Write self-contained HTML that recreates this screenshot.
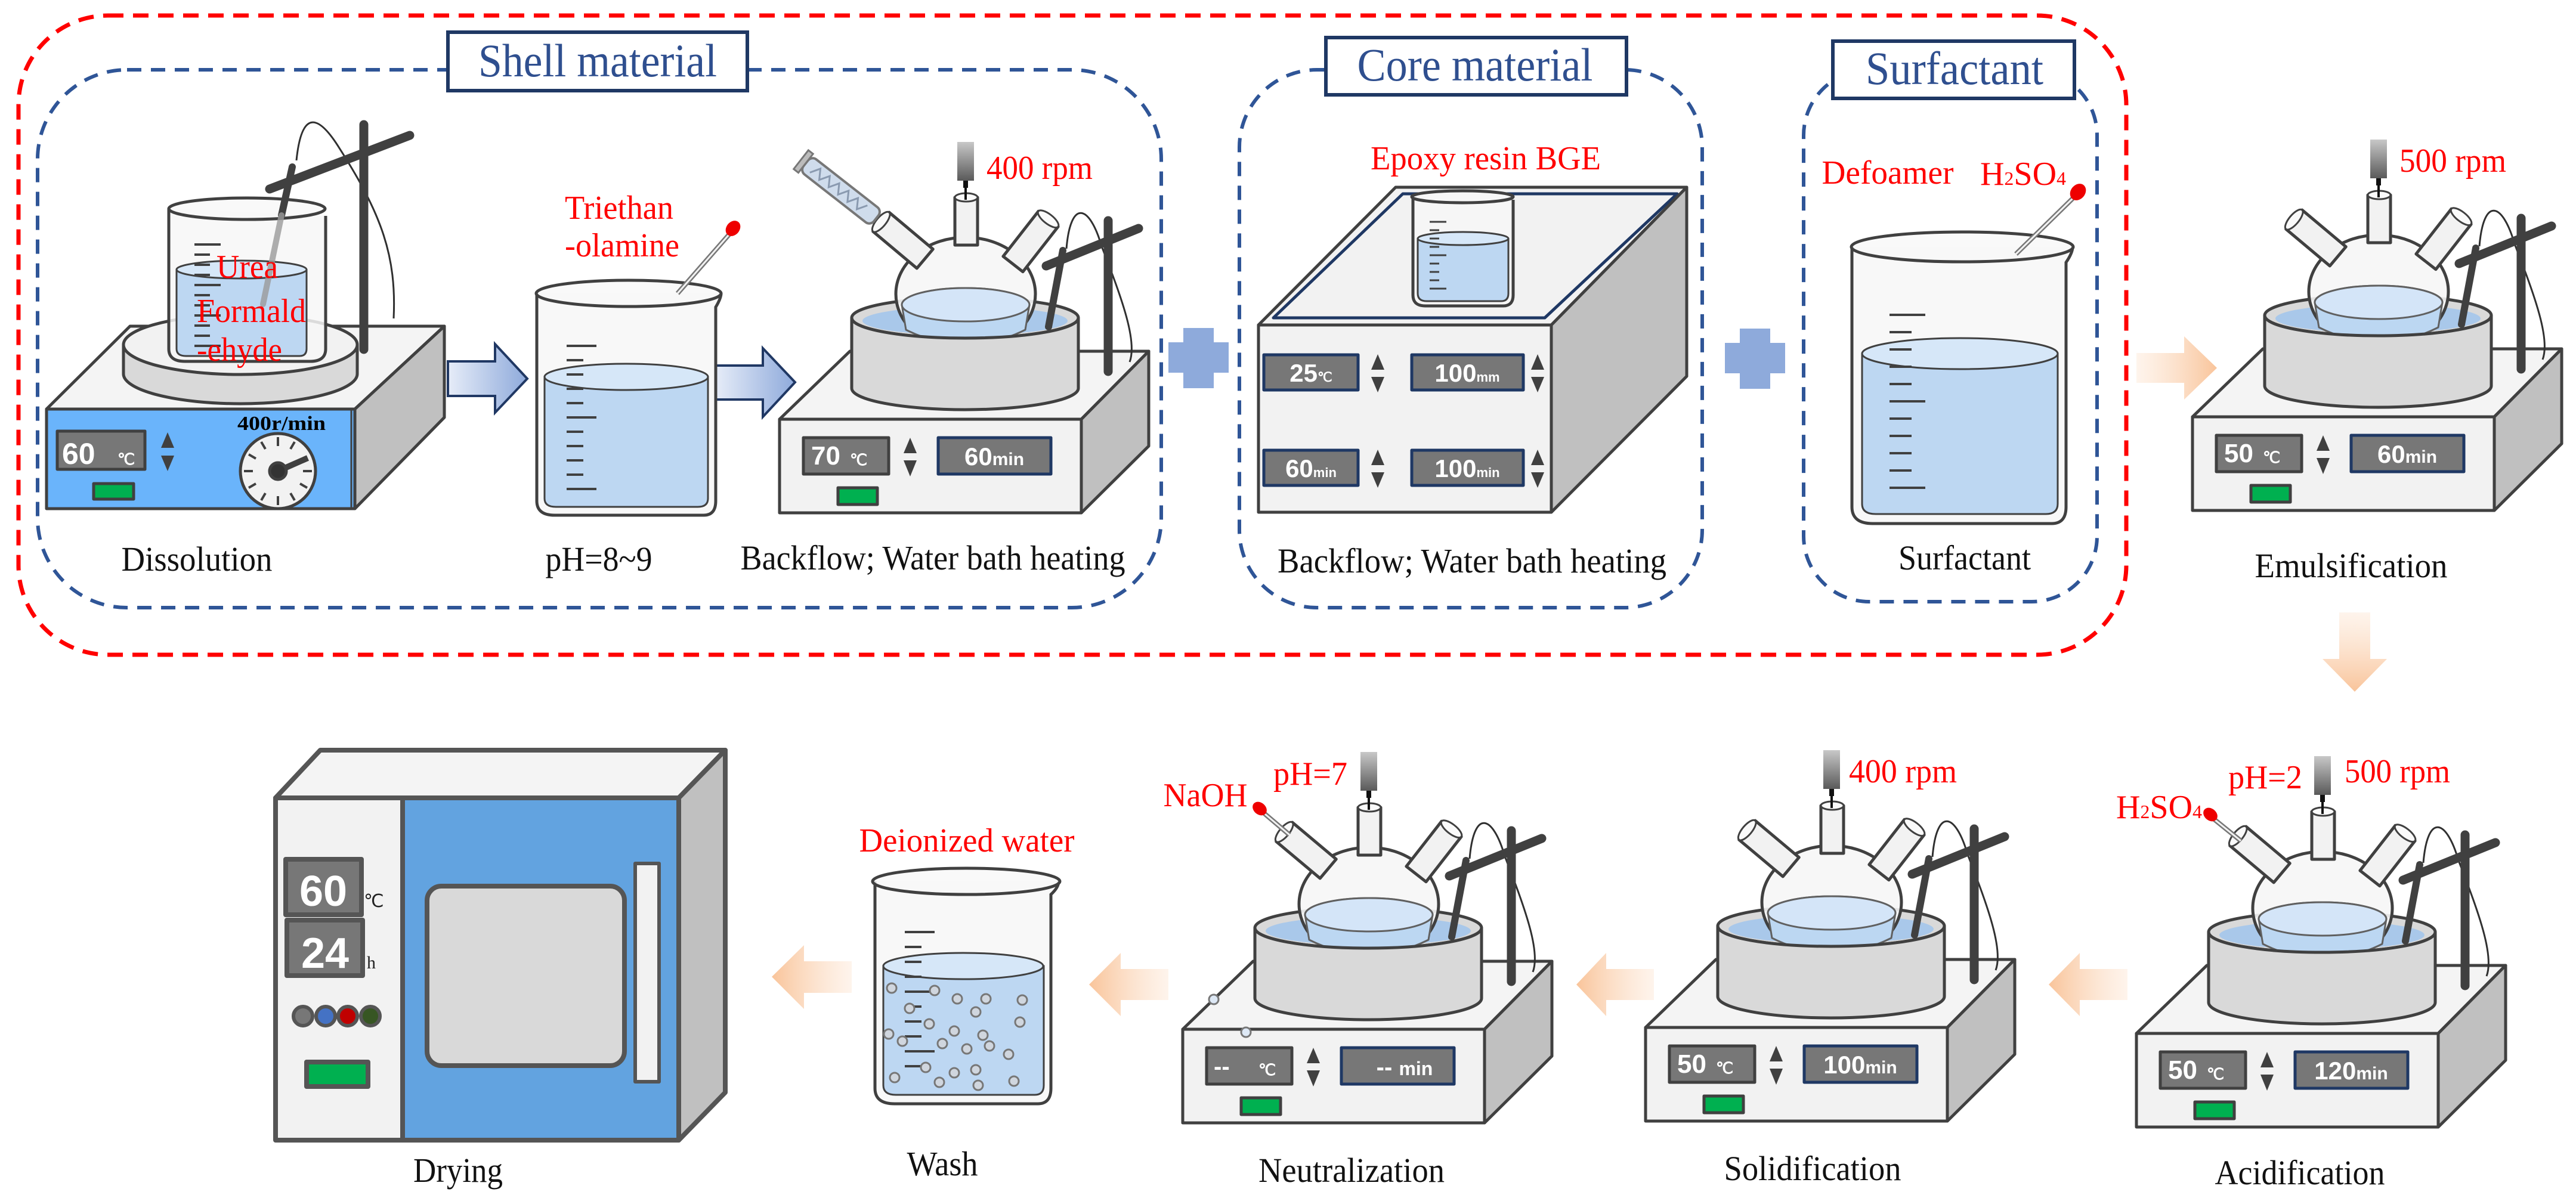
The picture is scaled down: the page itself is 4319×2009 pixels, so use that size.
<!DOCTYPE html>
<html><head><meta charset="utf-8"><style>
html,body{margin:0;padding:0;background:#fff;}
svg{display:block;}
text{font-family:"Liberation Serif",serif;}
.lb{font-size:58px;fill:#111;text-anchor:middle;font-family:"Liberation Serif",serif;}
.rd{font-size:56px;fill:#ff0000;font-family:"Liberation Serif",serif;}
.dt{font-family:"Liberation Sans",sans-serif;font-weight:bold;fill:#fff;}
.ttl{font-size:78px;fill:#2f4f8f;text-anchor:middle;font-family:"Liberation Serif",serif;}
</style></head><body>
<svg width="4319" height="2009" viewBox="0 0 4319 2009" xmlns="http://www.w3.org/2000/svg">
<defs>
<linearGradient id="stir" x1="0" y1="0" x2="0" y2="1"><stop offset="0" stop-color="#c8c8c8"/><stop offset="1" stop-color="#5a5a5a"/></linearGradient>
<linearGradient id="barr" x1="0" y1="0" x2="1" y2="0"><stop offset="0" stop-color="#e6ecf8"/><stop offset="1" stop-color="#8eaadb"/></linearGradient>
<linearGradient id="oR" x1="0" y1="0" x2="1" y2="0"><stop offset="0" stop-color="#fde9d9" stop-opacity="0.5"/><stop offset="1" stop-color="#f9c49a"/></linearGradient>
<linearGradient id="oL" x1="1" y1="0" x2="0" y2="0"><stop offset="0" stop-color="#fde9d9" stop-opacity="0.5"/><stop offset="1" stop-color="#f9c49a"/></linearGradient>
<linearGradient id="oD" x1="0" y1="0" x2="0" y2="1"><stop offset="0" stop-color="#fde9d9" stop-opacity="0.5"/><stop offset="1" stop-color="#f9c49a"/></linearGradient>
<g id="unit" stroke="#404040" stroke-width="5" stroke-linejoin="round">
  <polygon points="0,0 118,-114 619,-114 506,0" fill="#f4f4f4"/>
  <polygon points="506,0 619,-114 619,45 506,157" fill="#c0c0c0"/>
  <rect x="0" y="0" width="506" height="157" fill="#f2f2f2"/>
  <path d="M481,-286 C488,-370 520,-360 540,-290 C575,-200 600,-130 587,-96" fill="none" stroke="#303030" stroke-width="3"/>
  <ellipse cx="311" cy="-170" rx="190" ry="34" fill="#d9d9d9"/>
  <ellipse cx="311" cy="-165" rx="172" ry="24" fill="#a9c8ea" stroke="none"/>
  <ellipse cx="312" cy="-210" rx="117" ry="95" fill="#f6f6f6" fill-opacity="0.9"/>
  <path d="M205,-192 A107,28 0 0 1 419,-192 L412,-150 Q312,-100 212,-150 Z" fill="#bcd7f2" stroke="#606060" stroke-width="3"/>
  <ellipse cx="312" cy="-192" rx="107" ry="28" fill="#d4e5f8" stroke="#606060" stroke-width="3"/>
  <rect x="294" y="-372" width="38" height="80" fill="#f2f2f2"/>
  <ellipse cx="313" cy="-372" rx="19" ry="7" fill="#fafafa" stroke-width="3"/>
  <g transform="translate(207,-300) rotate(-50)"><rect x="-21" y="-48" width="42" height="96" fill="#f2f2f2"/><ellipse cx="0" cy="-48" rx="21" ry="8" fill="#fafafa" stroke-width="3"/></g>
  <g transform="translate(421,-298) rotate(38)"><rect x="-21" y="-48" width="42" height="96" fill="#f2f2f2"/><ellipse cx="0" cy="-48" rx="21" ry="8" fill="#fafafa" stroke-width="3"/></g>
  <path d="M121,-170 A190,34 0 0 0 501,-170 L501,-52 A190,36 0 0 1 121,-52 Z" fill="#d9d9d9"/>
  <rect x="298" y="-465" width="28" height="65" fill="url(#stir)" stroke="none"/>
  <line x1="312" y1="-400" x2="312" y2="-368" stroke="#111" stroke-width="4"/>
  <rect x="308" y="-400" width="8" height="12" fill="#111" stroke="none"/>
  <line x1="551" y1="-333" x2="551" y2="-80" stroke="#404040" stroke-width="15" stroke-linecap="round"/>
  <line x1="447" y1="-257" x2="602" y2="-320" stroke="#404040" stroke-width="15" stroke-linecap="round"/>
  <line x1="475" y1="-283" x2="451" y2="-155" stroke="#404040" stroke-width="12" stroke-linecap="round"/>
  <rect x="40" y="31" width="143" height="61" fill="#777"/>
  <polygon points="208,57 230,57 219,31" fill="#404040" stroke="none"/>
  <polygon points="208,69 230,69 219,96" fill="#404040" stroke="none"/>
  <rect x="266" y="31" width="189" height="61" fill="#777" stroke="#1f3864"/>
  <rect x="98" y="115" width="66" height="28" fill="#00b050"/>
</g>
</defs>

<rect x="31" y="26" width="3534" height="1072" rx="150" fill="none" stroke="#ff0000" stroke-width="7" stroke-dasharray="26 16"/>
<rect x="63" y="117" width="1884" height="902" rx="150" fill="none" stroke="#2f5597" stroke-width="6" stroke-dasharray="24 16"/>
<rect x="2078" y="117" width="776" height="902" rx="130" fill="none" stroke="#2f5597" stroke-width="6" stroke-dasharray="24 16"/>
<rect x="3024" y="117" width="492" height="892" rx="110" fill="none" stroke="#2f5597" stroke-width="6" stroke-dasharray="24 16"/>
<rect x="751" y="54" width="502" height="98" fill="#fff" stroke="#1f3864" stroke-width="6"/>
<text class="ttl" x="1002" y="128" textLength="400" lengthAdjust="spacingAndGlyphs">Shell material</text>
<rect x="2223" y="63" width="504" height="96" fill="#fff" stroke="#1f3864" stroke-width="6"/>
<text class="ttl" x="2473" y="135" textLength="395" lengthAdjust="spacingAndGlyphs">Core material</text>
<rect x="3073" y="69" width="405" height="96" fill="#fff" stroke="#1f3864" stroke-width="6"/>
<text class="ttl" x="3277" y="141" textLength="298" lengthAdjust="spacingAndGlyphs">Surfactant</text>

<!-- Dissolution -->
<g stroke="#404040" stroke-width="5" stroke-linejoin="round">
  <polygon points="78,686 218,547 745,547 595,686" fill="#f4f4f4"/>
  <polygon points="595,686 745,547 745,700 595,853" fill="#c0c0c0"/>
  <rect x="78" y="686" width="517" height="167" fill="#6ab4fb"/>
  <line x1="589" y1="686" x2="589" y2="853" stroke-width="3"/>
  <path d="M207,578 L207,627 A196,50 0 0 0 599,627 L599,578" fill="#d9d9d9"/>
  <ellipse cx="403" cy="578" rx="196" ry="50" fill="#f2f2f2"/>
  <path d="M497,269 C505,190 530,185 570,250 C640,360 665,430 660,534" fill="none" stroke="#303030" stroke-width="3"/>
  <path d="M283,350 L283,585 Q283,606 310,606 L520,606 Q546,606 546,585 L546,362" fill="#f7f7f7" fill-opacity="0.85"/>
  <path d="M296,452 L296,585 Q296,597 312,597 L502,597 Q514,597 514,585 L514,452 Z" fill="#bdd7f2" stroke-width="3"/>
  <ellipse cx="405" cy="452" rx="109" ry="15" fill="#d6e7f8" stroke-width="3"/>
  <ellipse cx="414" cy="350" rx="131" ry="18" fill="#f7f7f7" fill-opacity="0.8"/>
  <g stroke-width="4"><line x1="326" y1="410" x2="370" y2="410"/><line x1="326" y1="427" x2="352" y2="427"/><line x1="326" y1="444" x2="352" y2="444"/><line x1="326" y1="461" x2="352" y2="461"/><line x1="326" y1="478" x2="370" y2="478"/><line x1="326" y1="495" x2="352" y2="495"/><line x1="326" y1="512" x2="352" y2="512"/><line x1="326" y1="529" x2="370" y2="529"/><line x1="326" y1="546" x2="352" y2="546"/><line x1="326" y1="563" x2="352" y2="563"/><line x1="326" y1="580" x2="370" y2="580"/></g>
  <line x1="490" y1="280" x2="472" y2="361" stroke="#404040" stroke-width="12" stroke-linecap="round"/>
  <line x1="472" y1="361" x2="441" y2="510" stroke="#9a9a9a" stroke-width="10" stroke-linecap="round" stroke-opacity="0.8"/>
  <line x1="610" y1="209" x2="610" y2="586" stroke="#404040" stroke-width="15" stroke-linecap="round"/>
  <line x1="452" y1="317" x2="687" y2="227" stroke="#404040" stroke-width="15" stroke-linecap="round"/>
  <rect x="96" y="723" width="147" height="64" fill="#777"/>
  <polygon points="270,751 292,751 281,725" fill="#404040" stroke="none"/>
  <polygon points="270,764 292,764 281,790" fill="#404040" stroke="none"/>
  <rect x="157" y="811" width="67" height="26" fill="#00b050"/>
  <circle cx="466" cy="790" r="63" fill="#f2f2f2"/>
  <g stroke-width="4">
    <line x1="466" y1="733" x2="466" y2="748"/><line x1="466" y1="832" x2="466" y2="847"/><line x1="409" y1="790" x2="424" y2="790"/><line x1="508" y1="790" x2="523" y2="790"/>
    <line x1="438" y1="741" x2="445" y2="753"/><line x1="494" y1="741" x2="487" y2="753"/><line x1="438" y1="839" x2="445" y2="827"/><line x1="494" y1="839" x2="487" y2="827"/>
    <line x1="417" y1="762" x2="429" y2="769"/><line x1="417" y1="818" x2="429" y2="811"/><line x1="515" y1="818" x2="503" y2="811"/>
  </g>
  <line x1="466" y1="790" x2="516" y2="768" stroke-width="10"/>
  <circle cx="466" cy="790" r="14" fill="#333"/>
</g>
<text class="dt" x="104" y="778" font-size="50">60</text><text class="dt" x="197" y="779" font-size="26">℃</text>
<text x="472" y="721" font-family="Liberation Sans" font-weight="bold" font-size="34" fill="#000" text-anchor="middle" textLength="148" lengthAdjust="spacingAndGlyphs">400r/min</text>
<text class="rd" x="363" y="466" textLength="103" lengthAdjust="spacingAndGlyphs">Urea</text>
<text class="rd" x="330" y="540" textLength="183" lengthAdjust="spacingAndGlyphs">Formald</text>
<text class="rd" x="330" y="605" textLength="143" lengthAdjust="spacingAndGlyphs">-ehyde</text>
<text class="lb" x="330" y="957" textLength="253" lengthAdjust="spacingAndGlyphs">Dissolution</text>

<polygon points="751,606 830,606 830,577 884,635 830,692 830,664 751,664" fill="url(#barr)" stroke="#203864" stroke-width="4"/>
<polygon points="1200,613 1279,613 1279,584 1333,641 1279,699 1279,670 1200,670" fill="url(#barr)" stroke="#203864" stroke-width="4"/>

<!-- pH beaker -->
<g stroke="#404040" stroke-width="5">
  <path d="M900,492 L900,840 Q900,864 930,864 L1180,864 Q1200,864 1200,840 L1200,515 Q1209,500 1209,492" fill="#f7f7f7" fill-opacity="0.85"/>
  <path d="M913,632 L913,836 Q913,850 932,850 L1170,850 Q1187,850 1187,836 L1187,632 Z" fill="#bdd7f2" stroke-width="3"/>
  <ellipse cx="1050" cy="632" rx="137" ry="22" fill="#d6e7f8" stroke-width="3"/>
  <ellipse cx="1054" cy="492" rx="155" ry="22" fill="#f7f7f7" fill-opacity="0.8"/>
  <g stroke-width="4"><line x1="950" y1="580" x2="1000" y2="580"/><line x1="950" y1="604" x2="978" y2="604"/><line x1="950" y1="628" x2="978" y2="628"/><line x1="950" y1="652" x2="978" y2="652"/><line x1="950" y1="676" x2="978" y2="676"/><line x1="950" y1="700" x2="1000" y2="700"/><line x1="950" y1="724" x2="978" y2="724"/><line x1="950" y1="748" x2="978" y2="748"/><line x1="950" y1="772" x2="978" y2="772"/><line x1="950" y1="796" x2="978" y2="796"/><line x1="950" y1="820" x2="1000" y2="820"/></g>
  <line x1="1227" y1="388" x2="1136" y2="492" stroke="#777" stroke-width="8"/>
  <line x1="1227" y1="388" x2="1136" y2="492" stroke="#f2f2f2" stroke-width="3"/>
</g>
<ellipse cx="1229" cy="383" rx="11" ry="14" fill="#e00" transform="rotate(40 1229 383)"/>
<text class="rd" x="1038" y="367" text-anchor="middle" textLength="182" lengthAdjust="spacingAndGlyphs">Triethan</text>
<text class="rd" x="1043" y="430" text-anchor="middle" textLength="192" lengthAdjust="spacingAndGlyphs">-olamine</text>
<text class="lb" x="1004" y="957" textLength="179" lengthAdjust="spacingAndGlyphs">pH=8~9</text>

<!-- Backflow unit -->
<use href="#unit" x="1307" y="703"/>
<g transform="translate(1410,320) rotate(-52)">
  <rect x="-16" y="-75" width="32" height="150" rx="10" fill="#cfdcec" stroke="#777" stroke-width="4"/>
  <path d="M-8,-60 L8,-50 L-8,-40 L8,-30 L-8,-20 L8,-10 L-8,0 L8,10 L-8,20 L8,30 L-8,40 L8,50" fill="none" stroke="#8a9ab0" stroke-width="3"/>
  <rect x="-20" y="-85" width="40" height="10" fill="#bbb" stroke="#777" stroke-width="3"/>
</g>
<text class="dt" x="1360" y="779" font-size="44">70</text><text class="dt" x="1425" y="780" font-size="26">℃</text>
<text class="dt" x="1667" y="780" font-size="42" text-anchor="middle">60<tspan font-size="30">min</tspan></text>
<text class="rd" x="1654" y="300" textLength="178" lengthAdjust="spacingAndGlyphs">400 rpm</text>
<text class="lb" x="1564" y="955" textLength="645" lengthAdjust="spacingAndGlyphs">Backflow; Water bath heating</text>

<path d="M1984,550 h51 v24 h25 v51 h-25 v26 h-51 v-26 h-25 v-51 h25 Z" fill="#8eaadb"/>
<path d="M2917,551 h51 v24 h25 v51 h-25 v26 h-51 v-26 h-25 v-51 h25 Z" fill="#8eaadb"/>

<!-- Core device -->
<g stroke="#404040" stroke-width="5" stroke-linejoin="round">
  <polygon points="2110,545 2340,314 2828,314 2601,545" fill="#f2f2f2"/>
  <polygon points="2135,533 2352,325 2812,325 2590,533" fill="none" stroke="#1f3864"/>
  <polygon points="2601,545 2828,314 2828,631 2601,859" fill="#c0c0c0"/>
  <rect x="2110" y="545" width="491" height="314" fill="#f2f2f2"/>
  <path d="M2369,330 L2369,495 Q2369,513 2390,513 L2520,513 Q2537,513 2537,495 L2537,335" fill="#f7f7f7" fill-opacity="0.85"/>
  <path d="M2377,400 L2377,492 Q2377,505 2392,505 L2517,505 Q2529,505 2529,492 L2529,400 Z" fill="#bdd7f2" stroke-width="3"/>
  <ellipse cx="2453" cy="400" rx="76" ry="11" fill="#d6e7f8" stroke-width="3"/>
  <ellipse cx="2452" cy="330" rx="85" ry="10" fill="#f7f7f7"/>
  <g stroke-width="3"><line x1="2397" y1="372" x2="2425" y2="372"/><line x1="2397" y1="386" x2="2413" y2="386"/><line x1="2397" y1="400" x2="2413" y2="400"/><line x1="2397" y1="414" x2="2413" y2="414"/><line x1="2397" y1="428" x2="2425" y2="428"/><line x1="2397" y1="442" x2="2413" y2="442"/><line x1="2397" y1="456" x2="2413" y2="456"/><line x1="2397" y1="470" x2="2413" y2="470"/><line x1="2397" y1="484" x2="2425" y2="484"/></g>
  <rect x="2119" y="595" width="158" height="59" fill="#777" stroke="#1f3864"/>
  <rect x="2367" y="595" width="187" height="59" fill="#777" stroke="#1f3864"/>
  <rect x="2119" y="755" width="158" height="59" fill="#777" stroke="#1f3864"/>
  <rect x="2367" y="755" width="187" height="59" fill="#777" stroke="#1f3864"/>
  <g fill="#404040" stroke="none">
    <polygon points="2299,620 2321,620 2310,594"/><polygon points="2299,632 2321,632 2310,658"/>
    <polygon points="2567,620 2589,620 2578,594"/><polygon points="2567,632 2589,632 2578,658"/>
    <polygon points="2299,780 2321,780 2310,754"/><polygon points="2299,792 2321,792 2310,818"/>
    <polygon points="2567,780 2589,780 2578,754"/><polygon points="2567,792 2589,792 2578,818"/>
  </g>
</g>
<text class="dt" x="2198" y="640" font-size="42" text-anchor="middle">25<tspan font-size="22">℃</tspan></text>
<text class="dt" x="2460" y="640" font-size="42" text-anchor="middle">100<tspan font-size="22">mm</tspan></text>
<text class="dt" x="2198" y="800" font-size="42" text-anchor="middle">60<tspan font-size="22">min</tspan></text>
<text class="dt" x="2460" y="800" font-size="42" text-anchor="middle">100<tspan font-size="22">min</tspan></text>
<text class="rd" x="2491" y="284" text-anchor="middle" textLength="386" lengthAdjust="spacingAndGlyphs">Epoxy resin BGE</text>
<text class="lb" x="2468" y="960" textLength="652" lengthAdjust="spacingAndGlyphs">Backflow; Water bath heating</text>

<!-- Surfactant beaker -->
<g stroke="#404040" stroke-width="5">
  <path d="M3105,414 L3105,850 Q3105,878 3140,878 L3440,878 Q3464,878 3464,850 L3464,440 Q3475,424 3475,414" fill="#f7f7f7" fill-opacity="0.85"/>
  <path d="M3122,593 L3122,845 Q3122,862 3145,862 L3430,862 Q3450,862 3450,845 L3450,593 Z" fill="#bdd7f2" stroke-width="3"/>
  <ellipse cx="3286" cy="593" rx="164" ry="26" fill="#d6e7f8" stroke-width="3"/>
  <ellipse cx="3290" cy="414" rx="186" ry="25" fill="#f7f7f7" fill-opacity="0.8"/>
  <g stroke-width="4"><line x1="3168" y1="528" x2="3228" y2="528"/><line x1="3168" y1="557" x2="3205" y2="557"/><line x1="3168" y1="586" x2="3205" y2="586"/><line x1="3168" y1="615" x2="3205" y2="615"/><line x1="3168" y1="644" x2="3205" y2="644"/><line x1="3168" y1="673" x2="3228" y2="673"/><line x1="3168" y1="702" x2="3205" y2="702"/><line x1="3168" y1="731" x2="3205" y2="731"/><line x1="3168" y1="760" x2="3205" y2="760"/><line x1="3168" y1="789" x2="3205" y2="789"/><line x1="3168" y1="818" x2="3228" y2="818"/></g>
  <line x1="3478" y1="330" x2="3380" y2="426" stroke="#777" stroke-width="8"/>
  <line x1="3478" y1="330" x2="3380" y2="426" stroke="#f2f2f2" stroke-width="3"/>
</g>
<ellipse cx="3484" cy="322" rx="12" ry="15" fill="#e00" transform="rotate(40 3484 322)"/>
<text class="rd" x="3165" y="308" text-anchor="middle" textLength="221" lengthAdjust="spacingAndGlyphs">Defoamer</text>
<text class="rd" x="3392" y="310" text-anchor="middle">H<tspan font-size="32">2</tspan>SO<tspan font-size="32">4</tspan></text>
<text class="lb" x="3294" y="955" textLength="222" lengthAdjust="spacingAndGlyphs">Surfactant</text>

<polygon points="3582,592 3662,592 3662,564 3717,617 3662,670 3662,642 3582,642" fill="url(#oR)"/>
<polygon points="3922,1027 3974,1027 3974,1105 4002,1105 3948,1160 3894,1105 3922,1105" fill="url(#oD)"/>
<polygon points="3567,1625 3487,1625 3487,1598 3435,1651 3487,1704 3487,1677 3567,1677" fill="url(#oL)"/>
<polygon points="2773,1625 2693,1625 2693,1598 2643,1651 2693,1704 2693,1677 2773,1677" fill="url(#oL)"/>
<polygon points="1959,1625 1879,1625 1879,1598 1826,1651 1879,1704 1879,1677 1959,1677" fill="url(#oL)"/>
<polygon points="1428,1612 1348,1612 1348,1585 1294,1638 1348,1692 1348,1665 1428,1665" fill="url(#oL)"/>

<!-- Emulsification -->
<use href="#unit" x="3676" y="699"/>
<text class="dt" x="3729" y="775" font-size="44">50</text><text class="dt" x="3794" y="776" font-size="26">℃</text>
<text class="dt" x="4036" y="776" font-size="42" text-anchor="middle">60<tspan font-size="30">min</tspan></text>
<text class="rd" x="4023" y="288" textLength="179" lengthAdjust="spacingAndGlyphs">500 rpm</text>
<text class="lb" x="3942" y="968" textLength="323" lengthAdjust="spacingAndGlyphs">Emulsification</text>

<!-- Acidification -->
<use href="#unit" x="3582" y="1733"/>
<line x1="3710" y1="1372" x2="3757" y2="1410" stroke="#777" stroke-width="8"/>
<line x1="3710" y1="1372" x2="3757" y2="1410" stroke="#f2f2f2" stroke-width="3"/>
<ellipse cx="3706" cy="1366" rx="10" ry="13" fill="#e00" transform="rotate(-50 3706 1366)"/>
<text class="dt" x="3635" y="1809" font-size="44">50</text><text class="dt" x="3700" y="1810" font-size="26">℃</text>
<text class="dt" x="3942" y="1810" font-size="42" text-anchor="middle">120<tspan font-size="30">min</tspan></text>
<text class="rd" x="3798" y="1322" text-anchor="middle" textLength="124" lengthAdjust="spacingAndGlyphs">pH=2</text>
<text class="rd" x="3931" y="1312" textLength="177" lengthAdjust="spacingAndGlyphs">500 rpm</text>
<text class="rd" x="3620" y="1372" text-anchor="middle">H<tspan font-size="32">2</tspan>SO<tspan font-size="32">4</tspan></text>
<text class="lb" x="3856" y="1986" textLength="285" lengthAdjust="spacingAndGlyphs">Acidification</text>

<!-- Solidification -->
<use href="#unit" x="2759" y="1723"/>
<text class="dt" x="2812" y="1799" font-size="44">50</text><text class="dt" x="2877" y="1800" font-size="26">℃</text>
<text class="dt" x="3119" y="1800" font-size="42" text-anchor="middle">100<tspan font-size="30">min</tspan></text>
<text class="rd" x="3100" y="1312" textLength="181" lengthAdjust="spacingAndGlyphs">400 rpm</text>
<text class="lb" x="3039" y="1979" textLength="297" lengthAdjust="spacingAndGlyphs">Solidification</text>

<!-- Neutralization -->
<use href="#unit" x="1983" y="1726"/>
<line x1="2115" y1="1360" x2="2162" y2="1400" stroke="#777" stroke-width="8"/>
<line x1="2115" y1="1360" x2="2162" y2="1400" stroke="#f2f2f2" stroke-width="3"/>
<ellipse cx="2112" cy="1356" rx="10" ry="13" fill="#e00" transform="rotate(-50 2112 1356)"/>
<circle cx="2035" cy="1676" r="8" fill="#dde8f5" stroke="#777" stroke-width="3"/>
<circle cx="2089" cy="1731" r="8" fill="#dde8f5" stroke="#777" stroke-width="3"/>
<text class="dt" x="2035" y="1802" font-size="40">--</text><text class="dt" x="2110" y="1803" font-size="26">℃</text>
<text class="dt" x="2355" y="1803" font-size="40" text-anchor="middle">-- <tspan font-size="32">min</tspan></text>
<text class="rd" x="2197" y="1316" text-anchor="middle" textLength="124" lengthAdjust="spacingAndGlyphs">pH=7</text>
<text class="rd" x="2021" y="1352" text-anchor="middle" textLength="141" lengthAdjust="spacingAndGlyphs">NaOH</text>
<text class="lb" x="2266" y="1982" textLength="312" lengthAdjust="spacingAndGlyphs">Neutralization</text>

<!-- Wash beaker -->
<g stroke="#404040" stroke-width="5">
  <path d="M1467,1478 L1467,1825 Q1467,1851 1500,1851 L1740,1851 Q1762,1851 1762,1825 L1762,1500 Q1775,1488 1775,1478" fill="#f7f7f7" fill-opacity="0.85"/>
  <path d="M1481,1620 L1481,1820 Q1481,1836 1502,1836 L1735,1836 Q1750,1836 1750,1820 L1750,1620 Z" fill="#bdd7f2" stroke-width="3"/>
  <ellipse cx="1615" cy="1620" rx="134" ry="22" fill="#d6e7f8" stroke-width="3"/>
  <ellipse cx="1620" cy="1478" rx="157" ry="22" fill="#f7f7f7" fill-opacity="0.8"/>
  <g stroke-width="4"><line x1="1517" y1="1563" x2="1567" y2="1563"/><line x1="1517" y1="1588" x2="1545" y2="1588"/><line x1="1517" y1="1613" x2="1545" y2="1613"/><line x1="1517" y1="1638" x2="1545" y2="1638"/><line x1="1517" y1="1663" x2="1567" y2="1663"/><line x1="1517" y1="1688" x2="1545" y2="1688"/><line x1="1517" y1="1713" x2="1545" y2="1713"/><line x1="1517" y1="1738" x2="1545" y2="1738"/><line x1="1517" y1="1763" x2="1567" y2="1763"/><line x1="1517" y1="1788" x2="1545" y2="1788"/></g>
  <g fill="#d0d6de" stroke="#777" stroke-width="3">
    <circle cx="1495" cy="1657" r="8"/><circle cx="1567" cy="1661" r="8"/><circle cx="1605" cy="1675" r="8"/><circle cx="1653" cy="1675" r="8"/><circle cx="1714" cy="1677" r="8"/>
    <circle cx="1525" cy="1691" r="8"/><circle cx="1636" cy="1697" r="8"/><circle cx="1558" cy="1717" r="8"/><circle cx="1710" cy="1714" r="8"/>
    <circle cx="1490" cy="1734" r="8"/><circle cx="1600" cy="1729" r="8"/><circle cx="1648" cy="1736" r="8"/><circle cx="1513" cy="1746" r="8"/>
    <circle cx="1580" cy="1750" r="8"/><circle cx="1621" cy="1759" r="8"/><circle cx="1659" cy="1754" r="8"/><circle cx="1691" cy="1768" r="8"/>
    <circle cx="1552" cy="1790" r="8"/><circle cx="1600" cy="1799" r="8"/><circle cx="1636" cy="1794" r="8"/><circle cx="1500" cy="1807" r="8"/>
    <circle cx="1575" cy="1815" r="8"/><circle cx="1640" cy="1820" r="8"/><circle cx="1700" cy="1813" r="8"/>
  </g>
</g>
<text class="rd" x="1621" y="1428" text-anchor="middle" textLength="361" lengthAdjust="spacingAndGlyphs">Deionized water</text>
<text class="lb" x="1580" y="1971" textLength="119" lengthAdjust="spacingAndGlyphs">Wash</text>

<!-- Oven -->
<g stroke="#555" stroke-width="8" stroke-linejoin="round">
  <polygon points="462,1338 537,1258 1216,1258 1138,1338" fill="#f4f4f4"/>
  <polygon points="1138,1338 1216,1258 1216,1832 1138,1912" fill="#c0c0c0"/>
  <rect x="462" y="1338" width="213" height="574" fill="#f2f2f2"/>
  <rect x="675" y="1338" width="463" height="574" fill="#62a3e0"/>
  <rect x="716" y="1486" width="331" height="301" rx="24" fill="#d9d9d9"/>
  <rect x="1065" y="1448" width="40" height="366" fill="#f2f2f2" stroke-width="6"/>
  <rect x="479" y="1441" width="127" height="93" fill="#777"/>
  <rect x="481" y="1543" width="127" height="93" fill="#777"/>
  <rect x="514" y="1781" width="103" height="41" fill="#00b050"/>
</g>
<g stroke="#555" stroke-width="6">
  <circle cx="508" cy="1704" r="16" fill="#777"/><circle cx="546" cy="1704" r="16" fill="#4472c4"/><circle cx="583" cy="1704" r="16" fill="#c00000"/><circle cx="621" cy="1704" r="16" fill="#375623"/>
</g>
<text class="dt" x="542" y="1519" font-size="72" text-anchor="middle">60</text>
<text class="dt" x="545" y="1623" font-size="72" text-anchor="middle">24</text>
<text x="610" y="1521" font-family="Liberation Sans" font-size="30" fill="#222">℃</text>
<text x="615" y="1624" font-family="Liberation Sans" font-size="30" fill="#222">h</text>
<text class="lb" x="768" y="1982" textLength="150" lengthAdjust="spacingAndGlyphs">Drying</text>
</svg>
</body></html>
